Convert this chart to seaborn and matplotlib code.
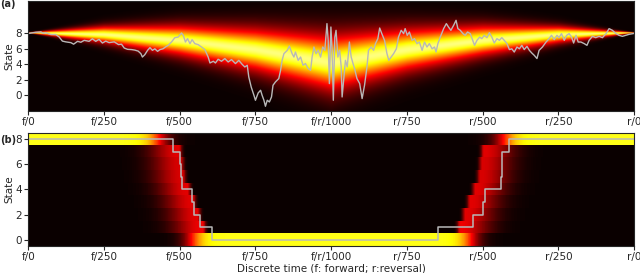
import numpy as np
import matplotlib
matplotlib.use("Agg")
import matplotlib.pyplot as plt
import seaborn as sns

# --- data ---
tick_pos = [0, 250, 500, 750, 1000, 1250, 1500, 1750, 2000]
tick_labels = ["f/0", "f/250", "f/500", "f/750", "f/r/1000",
               "r/750", "r/500", "r/250", "r/0"]

# panel (a): noisy trajectory
traj_t = [0, 3, 25, 42, 50, 58, 75, 91, 102, 113, 124, 141, 150, 163, 174, 185, 201, 212,
          223, 234, 245, 256, 267, 284, 298, 308, 317, 328, 341, 352, 363, 372, 377, 385,
          394, 402, 410, 418, 427, 435, 445, 453, 462, 473, 484, 495, 506, 512, 519, 526,
          534, 541, 550, 561, 572, 583, 594, 600, 611, 618, 627, 638, 649, 660, 671, 684,
          695, 706, 715, 723, 728, 736, 745, 750, 759, 767, 772, 778, 783, 789, 796, 803,
          808, 816, 827, 833, 838, 844, 855, 862, 871, 877, 882, 891, 899, 907, 915, 924,
          932, 937, 943, 950, 957, 965, 972, 979, 986, 990, 994, 999, 1003, 1007, 1012,
          1016, 1022, 1028, 1033, 1036, 1041, 1047, 1053, 1060, 1066, 1072, 1077, 1085,
          1094, 1102, 1110, 1118, 1123, 1132, 1140, 1146, 1154, 1160, 1167, 1176, 1184,
          1190, 1198, 1206, 1215, 1222, 1231, 1239, 1244, 1251, 1258, 1267, 1275, 1283,
          1291, 1300, 1308, 1316, 1324, 1333, 1341, 1346, 1352, 1360, 1371, 1380, 1387,
          1395, 1404, 1412, 1418, 1426, 1435, 1442, 1450, 1459, 1467, 1473, 1481, 1490,
          1497, 1505, 1514, 1522, 1530, 1538, 1547, 1555, 1563, 1571, 1580, 1588, 1596,
          1604, 1613, 1621, 1629, 1637, 1646, 1654, 1662, 1670, 1679, 1686, 1697, 1709,
          1719, 1727, 1736, 1745, 1752, 1760, 1769, 1777, 1785, 1793, 1800, 1808, 1815,
          1824, 1835, 1844, 1851, 1862, 1873, 1884, 1895, 1907, 1917, 1928, 1940, 1950,
          1961, 1972, 1983, 2000]
traj_state = [8.0, 8.0, 8.15, 8.2, 8.0, 8.1, 7.85, 7.85, 7.55, 7.0, 6.9, 6.8, 6.6, 6.97,
              6.85, 7.1, 6.97, 7.3, 6.97, 7.23, 6.75, 7.0, 6.8, 6.9, 6.55, 6.6, 6.1, 5.93,
              5.9, 5.83, 5.7, 5.37, 4.93, 5.24, 5.8, 6.15, 5.8, 6.0, 5.67, 5.9, 6.0, 6.23,
              6.45, 6.88, 7.45, 7.53, 8.05, 7.75, 6.88, 7.32, 6.67, 7.19, 6.67, 6.54, 6.23,
              5.9, 4.93, 4.16, 4.38, 4.16, 4.64, 4.38, 4.73, 4.29, 4.6, 4.08, 4.5, 3.99,
              3.64, 3.86, 2.34, 1.04, -0.04, -0.69, 0.26, 0.61, -0.04, -0.69, -1.47, -0.69,
              -0.91, -0.26, 1.26, 1.69, 2.13, 3.21, 4.5, 5.37, 5.8, 6.36, 5.37, 4.93, 5.58,
              4.5, 4.93, 3.86, 4.08, 3.43, 3.21, 4.93, 6.23, 5.37, 5.8, 4.93, 6.23, 5.8,
              9.27, 7.1, 1.48, 8.83, 5.8, -0.69, 7.53, 8.4, 4.93, 5.8, 3.64, -0.26, 1.91,
              4.5, 3.64, 6.88, 4.93, 4.08, 3.43, 2.13, 1.48, -0.47, 1.26, 3.64, 5.8, 6.23,
              5.8, 6.67, 7.32, 8.7, 7.97, 7.1, 5.37, 4.5, 4.93, 5.37, 6.0, 7.53, 8.4, 7.97,
              8.62, 7.75, 8.18, 7.1, 7.32, 6.67, 6.88, 5.8, 6.88, 6.23, 6.67, 6.0, 6.23,
              5.58, 6.67, 7.53, 8.62, 9.27, 8.83, 8.4, 9.05, 9.7, 8.62, 8.4, 7.97, 7.75,
              8.18, 7.97, 7.1, 6.45, 7.1, 7.53, 7.32, 7.75, 7.45, 8.1, 7.53, 6.75, 7.32,
              7.1, 7.45, 7.1, 6.67, 5.9, 6.0, 5.58, 6.23, 6.0, 6.45, 5.9, 6.32, 5.8, 5.45,
              5.15, 4.73, 5.8, 6.23, 6.88, 7.32, 7.75, 7.19, 7.75, 7.45, 7.97, 7.1, 7.75,
              7.97, 7.53, 6.75, 7.75, 6.88, 6.88, 6.67, 6.45, 7.1, 7.62, 7.45, 7.62, 7.45,
              7.97, 8.62, 8.4, 7.97, 7.75, 7.62, 7.75, 7.88, 8.0]

# panel (a): centre and spread of the probability band (forward half, mirrored)
band_t = [0, 250, 500, 750, 1000]
band_center = [8.0, 7.76, 7.0, 5.8, 4.1]
band_scale = [0.03, 0.95, 1.75, 2.45, 3.25]

# panel (b): discrete step path
step_t = [0, 478, 502, 504, 508, 541, 548, 568, 607, 1353, 1469, 1502, 1508,
          1561, 1562, 1563, 1587, 2000]
step_state = [8, 7, 6, 5, 4, 3, 2, 1, 0, 1, 2, 3, 4, 5, 6, 7, 8, 8]

# panel (b): occupancy per state row, forward half (mirrored for the reversal)
row_state = [8, 7, 6, 5, 4, 3, 2, 1, 0]
row_edge = [432, 496, 502, 508, 524, 541, 557, 574, 540]
row_peak = [1.0, 0.42, 0.4, 0.4, 0.42, 0.42, 0.42, 0.45, 1.0]

# --- build the heat fields ---
t_grid = np.arange(0, 2001)
u = np.minimum(t_grid, 2000 - t_grid)
center = np.interp(u, band_t, band_center)
scale = np.interp(u, band_t, band_scale)
y_grid = np.linspace(-2.1, 12.2, 300)
dist = np.abs(y_grid[:, None] - center[None, :]) / scale[None, :]
field_a = np.exp(-dist ** 1.7)

tf = np.minimum(t_grid, 2000 - t_grid).astype(float)   # mirrored time
field_b = np.zeros((9, len(t_grid)))
for s, e, pk in zip(row_state, row_edge, row_peak):
    if s == 8:
        prof = 1 / (1 + np.exp((tf - e) / 22.0))
    elif s == 0:
        prof = 1 / (1 + np.exp(-(tf - e) / 20.0))
    else:
        left = np.exp(-0.5 * ((tf - e) / 65.0) ** 2)
        right = np.exp(-0.5 * ((tf - e) / 8.0) ** 2)
        prof = np.where(tf < e, left, right)
    field_b[s] = pk * prof

# --- plot ---
sns.set_style("ticks")
plt.rcParams["font.family"] = ["DejaVu Sans"]
fig = plt.figure(figsize=(6.4, 2.73), dpi=100)
ax1 = fig.add_axes([0.044, 0.593, 0.947, 0.403])
ax2 = fig.add_axes([0.044, 0.099, 0.947, 0.414])

ax1.imshow(field_a, extent=[0, 2000, -2.1, 12.2], origin="lower", aspect="auto",
           cmap="hot", vmin=0, vmax=1.15, interpolation="bilinear")
sns.lineplot(x=traj_t, y=traj_state, ax=ax1, color="#b8b8b8", lw=1.0,
             estimator=None, sort=False)
ax1.set_ylim(-2.1, 12.2)
ax1.set_yticks([0, 2, 4, 6, 8])

ax2.imshow(field_b, extent=[0, 2000, -0.5, 8.5], origin="lower", aspect="auto",
           cmap="hot", vmin=0, vmax=1.3, interpolation="nearest")
sns.lineplot(x=step_t, y=step_state, ax=ax2, color="#b8b8b8", lw=1.1,
             estimator=None, sort=False, drawstyle="steps-post")
ax2.set_ylim(-0.5, 8.5)
ax2.set_yticks([0, 2, 4, 6, 8])
ax2.set_xlabel("Discrete time (f: forward; r:reversal)", fontsize=7.5, labelpad=1)

for ax in (ax1, ax2):
    ax.set_xlim(0, 2000)
    ax.set_xticks(tick_pos)
    ax.set_xticklabels(tick_labels)
    ax.set_ylabel("State", fontsize=7.5, labelpad=1)
    ax.tick_params(labelsize=7.5, length=3, pad=1.5)

fig.text(0.0, 0.985, "(a)", fontsize=7, fontweight="bold", va="center")
fig.text(0.0, 0.487, "(b)", fontsize=7, fontweight="bold", va="center")

fig.savefig("out.png", dpi=100)
